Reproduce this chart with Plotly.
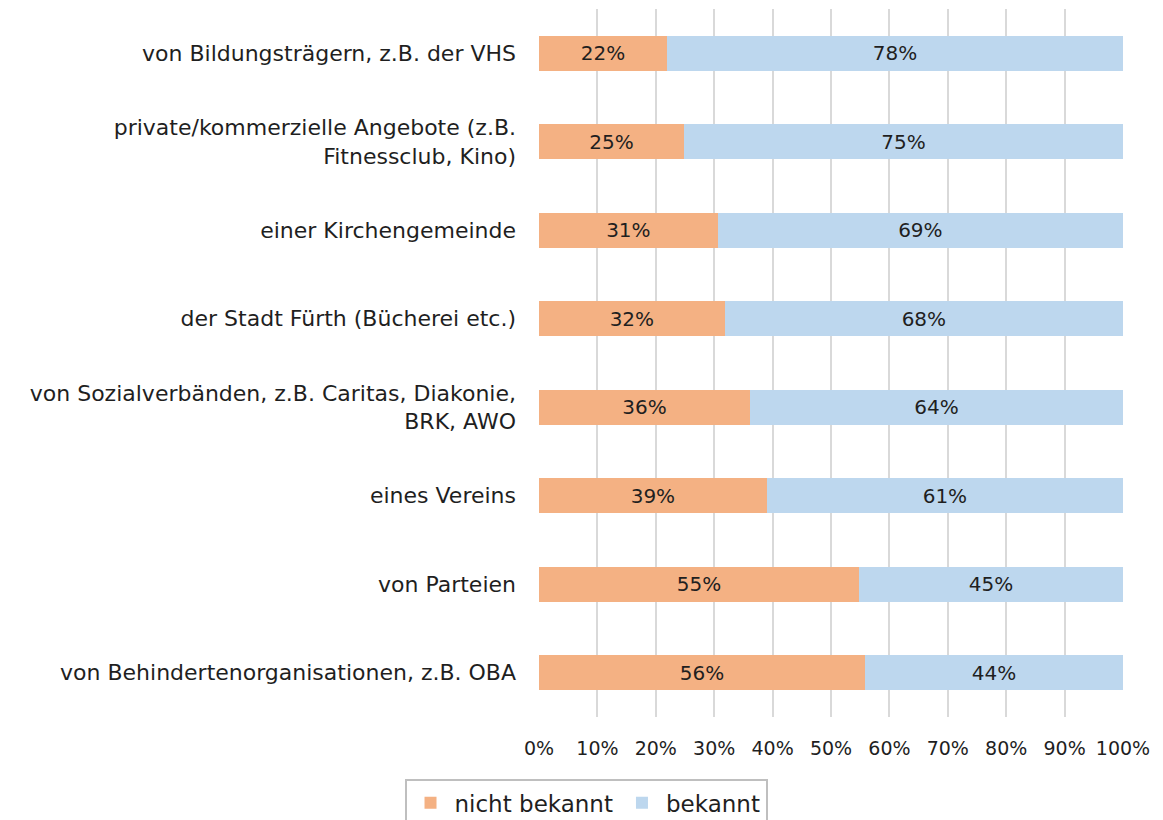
import plotly.graph_objects as go

categories = [
    "von Bildungsträgern, z.B. der VHS",
    "private/kommerzielle Angebote (z.B.<br>Fitnessclub, Kino)",
    "einer Kirchengemeinde",
    "der Stadt Fürth (Bücherei etc.)",
    "von Sozialverbänden, z.B. Caritas, Diakonie,<br>BRK, AWO",
    "eines Vereins",
    "von Parteien",
    "von Behindertenorganisationen, z.B. OBA",
]
nicht_bekannt = [21.9, 24.8, 30.6, 31.8, 36.1, 39.0, 54.8, 55.8]
bekannt = [78.1, 75.2, 69.4, 68.2, 63.9, 61.0, 45.2, 44.2]
nicht_labels = ["22%", "25%", "31%", "32%", "36%", "39%", "55%", "56%"]
bekannt_labels = ["78%", "75%", "69%", "68%", "64%", "61%", "45%", "44%"]
x_ticks = [0, 10, 20, 30, 40, 50, 60, 70, 80, 90, 100]

FONT = "DejaVu Sans"
TXT = "#1f1f1f"

fig = go.Figure()
fig.add_trace(go.Bar(
    y=categories, x=nicht_bekannt, orientation="h", name="nicht bekannt",
    marker=dict(color="#F4B183", line=dict(width=0)),
    text=nicht_labels, textposition="inside", insidetextanchor="middle",
    textangle=0, constraintext="none",
    textfont=dict(family=FONT, size=20, color=TXT),
))
fig.add_trace(go.Bar(
    y=categories, x=bekannt, orientation="h", name="bekannt",
    marker=dict(color="#BDD7EE", line=dict(width=0)),
    text=bekannt_labels, textposition="inside", insidetextanchor="middle",
    textangle=0, constraintext="none",
    textfont=dict(family=FONT, size=20, color=TXT),
))

fig.update_layout(
    barmode="stack",
    bargap=0.6,
    width=1163, height=820,
    margin=dict(l=531, r=48, t=1, b=111, autoexpand=False),
    paper_bgcolor="white", plot_bgcolor="white",
    font=dict(family=FONT, size=20, color=TXT),
    showlegend=True,
    legend=dict(
        orientation="h", x=0.0805, xanchor="center", y=-0.088, yanchor="top",
        bordercolor="#BFBFBF", borderwidth=2,
        font=dict(family=FONT, size=23, color=TXT),
        itemwidth=38, traceorder="normal",
    ),
    xaxis=dict(
        range=[0, 100], tickvals=x_ticks,
        ticktext=[f"{v}%" for v in x_ticks],
        showgrid=True, gridcolor="#D9D9D9", gridwidth=2,
        zeroline=False, showline=False, ticks="",
        tickfont=dict(family=FONT, size=19, color=TXT),
        ticklabelstandoff=18,
    ),
    yaxis=dict(
        autorange="reversed", showgrid=False, zeroline=False, showline=False,
        ticks="", tickfont=dict(family=FONT, size=22, color=TXT),
        ticklabelstandoff=22,
    ),
)

fig.write_html("out.html")
